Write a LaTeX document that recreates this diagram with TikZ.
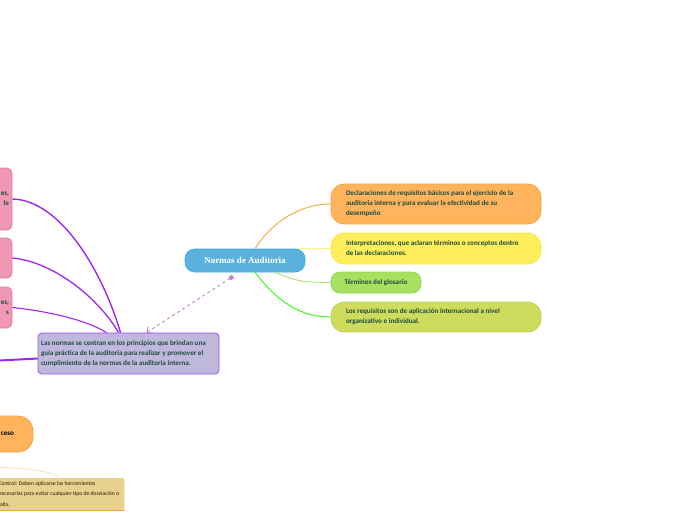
\documentclass[tikz,border=0pt]{standalone}
\usepackage{fontspec}
\setmainfont{Carlito}
\newfontfamily\titlefont{Liberation Serif}
\usetikzlibrary{positioning, arrows.meta}
\definecolor{txtgreen}{HTML}{1F4A3C}
\definecolor{bluefill}{HTML}{5AB2DC}
\definecolor{bluedraw}{HTML}{3AAEE8}
\definecolor{orangefill}{HTML}{FFB35C}
\definecolor{orangedraw}{HTML}{F7A53A}
\definecolor{yellowfill}{HTML}{FFEE5C}
\definecolor{yellowdraw}{HTML}{FDE94A}
\definecolor{limefill}{HTML}{A8E060}
\definecolor{limedraw}{HTML}{98D850}
\definecolor{olivefill}{HTML}{CEDC5E}
\definecolor{olivedraw}{HTML}{C2D254}
\definecolor{lilacfill}{HTML}{BFB8DC}
\definecolor{purpledraw}{HTML}{A64CEB}
\definecolor{pinkfill}{HTML}{EF97B5}
\definecolor{pinkdraw}{HTML}{E67CA2}
\definecolor{tanfill}{HTML}{E8D18D}
\definecolor{purpleline}{HTML}{9D27F0}
\definecolor{dashline}{HTML}{C283C8}
\tikzstyle{idea} = [draw, line width=0.8pt, rounded corners=13pt, text=txtgreen, font=\bfseries\fontsize{7.1}{10}\selectfont, align=flush left, inner xsep=0pt, inner ysep=0pt]
\tikzstyle{widebox} = [idea, text width=180pt, inner xsep=15pt]
\tikzstyle{pinkbox} = [idea, fill=pinkfill, draw=pinkdraw, rounded corners=5pt, align=flush right, text width=54pt, inner xsep=3pt]
\tikzstyle{branch} = [line width=0.9pt]
\tikzstyle{subbranch} = [line width=1.5pt, purpleline]

\begin{document}
\begin{tikzpicture}[x=1pt,y=-1pt]
				\useasboundingbox (0,0) rectangle (696,520);
				\clip (0,0) rectangle (696,520);
				% main topic
				\node[idea, fill=bluefill, draw=bluedraw, rounded corners=10pt, text=white, font=\titlefont\bfseries\fontsize{9}{11}\selectfont, minimum width=120pt, minimum height=23pt] (normas) at (245,260.5) {Normas de Auditoria};
				% right side
				\node[widebox, fill=orangefill, draw=orangedraw, minimum height=40pt] (decl) at (436,204) {Declaraciones de requisitos básicos para el ejercicio de la\\auditoria interna y para evaluar la efectividad de su\\desempeño};
				\node[widebox, fill=yellowfill, draw=yellowdraw, minimum height=31pt] (interp) at (436,248.5) {Interpretaciones, que aclaran términos o conceptos dentro\\de las declaraciones.};
				\node[idea, fill=limefill, draw=limedraw, rounded corners=9pt, minimum width=90pt, minimum height=21pt] (glos) at (376,282.5) {Términos del glosario};
				\node[widebox, fill=olivefill, draw=olivedraw, minimum height=30pt] (req) at (436,317) {Los requisitos son de aplicación internacional a nivel\\organizativo e individual.};
				\draw[branch, orangedraw] ([xshift=10pt]normas.north) .. controls (272,222) and (300,204) .. (decl.west);
				\draw[branch, yellowdraw!80] ([xshift=-8pt]normas.north east) .. controls (312,249) .. (interp.west);
				\draw[branch, limedraw!80!white] ([xshift=30pt]normas.south) .. controls (300,282) .. (glos.west);
				\draw[branch, green!80!lime] ([xshift=10pt]normas.south) .. controls (278,302) and (300,317) .. (req.west);
				% left side
				\node[idea, fill=lilacfill, draw=purpledraw, rounded corners=4pt, text width=175pt, inner xsep=3pt, minimum height=41pt] (principios) at (128.5,353.5) {Las normas se centran en los principios que brindan una\\guía práctica de la auditoria para realizar y promover el\\cumplimiento de la normas de la auditoría interna.};
				\draw[dashed, line width=0.9pt, dashline, {Square[length=4pt,width=4pt]}-{Straight Barb[length=4pt]}] ([xshift=-12pt,yshift=-4pt]normas.south) -- ([xshift=18pt]principios.north);
				\node[pinkbox, minimum height=62pt] (p1) at (-18,199) {es,\\le};
				\node[pinkbox, minimum height=40pt] (p2) at (-18,258) {};
				\node[pinkbox, minimum height=41pt] (p3) at (-18,307.5) {es,\\s};
				\draw[subbranch, line width=1.4pt] (p1.east) .. controls (60,200) and (102,270) .. ([xshift=-8pt]principios.north);
				\draw[subbranch, line width=1.3pt] (p2.east) .. controls (55,262) and (100,300) .. ([xshift=-10pt]principios.north);
				\draw[subbranch, line width=1.1pt] (p3.east) .. controls (55,312) and (90,322) .. ([xshift=-22pt]principios.north);
				\coordinate (offleft) at (-10,361);
				\draw[subbranch, line width=2pt] ([yshift=-5pt]principios.west) -- (offleft);
				% bottom left
				\node[idea, fill=orangefill, draw=orangedraw, rounded corners=15pt, text width=62pt, minimum height=36pt, text=black, align=flush right, inner xsep=19pt] (proceso) at (-17,434) {ceso};
				\node[idea, draw=none, fill=tanfill, rounded corners=2pt, text=black!80!brown, font=\fontsize{5.7}{10.5}\selectfont, anchor=west, minimum width=131pt, minimum height=32pt, inner xsep=0pt] (control) at (-7,494) {Control: Deben aplicarse las herramientas\\necesarias para evitar cualquier tipo de desviación o\\falla.};
				\draw[orangedraw, line width=0.8pt] (control.south west) -- (control.south east);
				\coordinate (offcontrol) at (-10,467);
				\draw[orangefill!50, line width=0.7pt] (offcontrol) .. controls (30,468) and (55,472) .. ([xshift=-1pt]control.north);
			\end{tikzpicture}
\end{document}
